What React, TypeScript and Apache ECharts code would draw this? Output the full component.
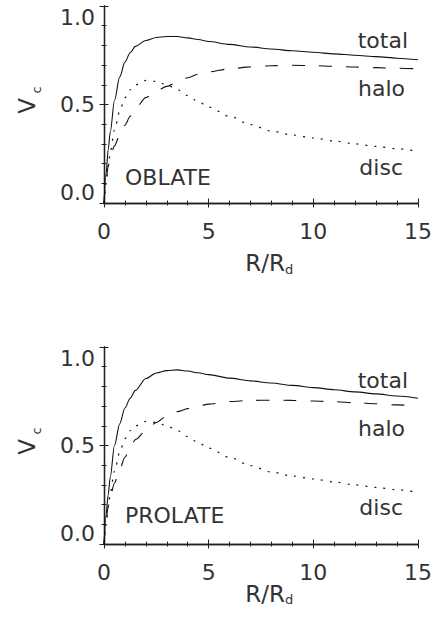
import React, { useEffect, useRef } from "react";
import * as echarts from "echarts";

// Radius in units of disc scale length
const radius = [0, 0.1, 0.2, 0.3, 0.5, 0.75, 1, 1.25, 1.5, 2, 2.5, 3, 3.5, 4, 4.5, 5, 6, 7, 8, 9, 10, 11, 12, 13, 14, 15];

// Disc contribution (same in both panels)
const discV = [0, 0.1, 0.19, 0.26, 0.37, 0.465, 0.535, 0.575, 0.6, 0.622, 0.617, 0.6, 0.576, 0.545, 0.515, 0.487, 0.44, 0.398, 0.365, 0.345, 0.33, 0.315, 0.3, 0.287, 0.275, 0.263];

// Oblate halo
const oblateHalo = [0, 0.12, 0.185, 0.235, 0.29, 0.345, 0.395, 0.44, 0.48, 0.535, 0.568, 0.592, 0.614, 0.636, 0.654, 0.666, 0.681, 0.691, 0.697, 0.699, 0.697, 0.694, 0.69, 0.687, 0.684, 0.681];
const oblateTotal = [0, 0.15, 0.27, 0.36, 0.52, 0.64, 0.715, 0.763, 0.795, 0.825, 0.84, 0.845, 0.845, 0.838, 0.83, 0.82, 0.805, 0.792, 0.782, 0.773, 0.765, 0.757, 0.75, 0.743, 0.735, 0.727];

// Prolate halo
const prolateHalo = [0, 0.12, 0.19, 0.24, 0.31, 0.38, 0.44, 0.49, 0.53, 0.575, 0.617, 0.65, 0.672, 0.687, 0.7, 0.71, 0.723, 0.729, 0.73, 0.729, 0.726, 0.722, 0.717, 0.712, 0.706, 0.7];
const prolateTotal = [0, 0.15, 0.25, 0.34, 0.5, 0.61, 0.69, 0.74, 0.78, 0.84, 0.868, 0.88, 0.884, 0.878, 0.869, 0.86, 0.842, 0.828, 0.817, 0.805, 0.794, 0.783, 0.772, 0.762, 0.751, 0.74];

const xTicks = [0, 5, 10, 15];
const yTicks = [0, 0.5, 1.0];
const curveNames = ["total", "halo", "disc"];
const panelNames = ["OBLATE", "PROLATE"];

const FONT = "'DejaVu Sans', sans-serif";
const INK = "#333333";

const pairs = (ys: number[]) => radius.map((r, i) => [r, ys[i]]);

export default function App() {
  const ref = useRef<HTMLDivElement>(null);
  useEffect(() => {
    if (!ref.current) return;
    const chart = echarts.init(ref.current, undefined, { renderer: "svg" });
    const axisLine = { show: true, lineStyle: { color: "#222", width: 1.3 } };
    const tick = { show: true, inside: true, length: 4.5, lineStyle: { color: "#222", width: 1 } };
    const minor = { show: true, splitNumber: 5, length: 2.5, lineStyle: { color: "#222", width: 1 } };
    const label = { color: INK, fontFamily: FONT, fontSize: 22, fontWeight: "normal" };

    const xAxis: any[] = [];
    const yAxis: any[] = [];
    const grids: any[] = [];
    const series: any[] = [];
    const tops = [6, 347];
    const halos = [oblateHalo, prolateHalo];
    const totals = [oblateTotal, prolateTotal];
    tops.forEach((top, p) => {
      grids.push({ left: 104, top, width: 314, height: 197 });
      const base = {
        type: "value", gridIndex: p, min: xTicks[0], max: xTicks[xTicks.length - 1], interval: xTicks[1] - xTicks[0],
        axisLine, axisTick: tick, minorTick: minor, splitLine: { show: false },
      };
      xAxis.push({ ...base, position: "bottom", axisLabel: { ...label, margin: 17 } });
      xAxis.push({ ...base, position: "top", axisLabel: { show: false } });
      const ybase = {
        type: "value", gridIndex: p, min: yTicks[0], max: yTicks[yTicks.length - 1], interval: yTicks[1] - yTicks[0],
        axisLine, axisTick: tick, minorTick: minor, splitLine: { show: false },
      };
      yAxis.push({
        ...ybase, position: "left",
        axisLabel: {
          ...label, margin: 9, formatter: (v: number) => v.toFixed(1),
          verticalAlignMaxLabel: "top", verticalAlignMinLabel: "bottom",
        },
      });
      yAxis.push({ ...ybase, position: "right", axisLabel: { show: false } });
      const xi = p * 2;
      const common = { type: "line", xAxisIndex: xi, yAxisIndex: xi, showSymbol: false, smooth: 0.3, smoothMonotone: "x", clip: true, silent: true };
      series.push({ ...common, name: curveNames[0] + p, data: pairs(totals[p]), lineStyle: { color: "#111", width: 1.1, type: "solid" } });
      series.push({ ...common, name: curveNames[1] + p, data: pairs(halos[p]), lineStyle: { color: "#111", width: 1.1, type: [13, 14] } });
      series.push({ ...common, name: curveNames[2] + p, data: pairs(discV), lineStyle: { color: "#111", width: 1.2, type: [2, 7] } });
    });

    const txt = (text: string, x: number, y: number, align: string, size = 22, extra: any = {}) => ({
      type: "text", x, y, silent: true, ...extra,
      style: { text, fill: INK, fontFamily: FONT, fontSize: size, fontWeight: "normal", align, verticalAlign: "middle" },
    });
    const graphic: any[] = [];
    const labelY = [
      [40, 88, 167, 177],
      [380, 428, 507, 515.5],
    ];
    const vY = [106, 447];
    const rY = [263, 593.5];
    [0, 1].forEach((p) => {
      graphic.push(txt(curveNames[0], 408, labelY[p][0], "right"));
      graphic.push(txt(curveNames[1], 405, labelY[p][1], "right"));
      graphic.push(txt(curveNames[2], 403, labelY[p][2], "right"));
      graphic.push(txt(panelNames[p], 125, labelY[p][3], "left"));
      // y-axis title V_c (rotated)
      graphic.push(txt("V", 27, vY[p], "center", 23, { rotation: Math.PI / 2 }));
      graphic.push(txt("c", 36, vY[p] - 16, "center", 13, { rotation: Math.PI / 2 }));
      // x-axis title R/R_d
      graphic.push(txt("R/R", 285, rY[p], "right", 23));
      graphic.push(txt("d", 285, rY[p] + 6, "left", 13));
    });

    chart.setOption({
      animation: false,
      grid: grids,
      xAxis,
      yAxis,
      series,
      graphic,
    });
    return () => chart.dispose();
  }, []);
  return <div ref={ref} style={{ position: "absolute", left: 0, top: 0, width: 435, height: 620, background: "#fff" }} />;
}
